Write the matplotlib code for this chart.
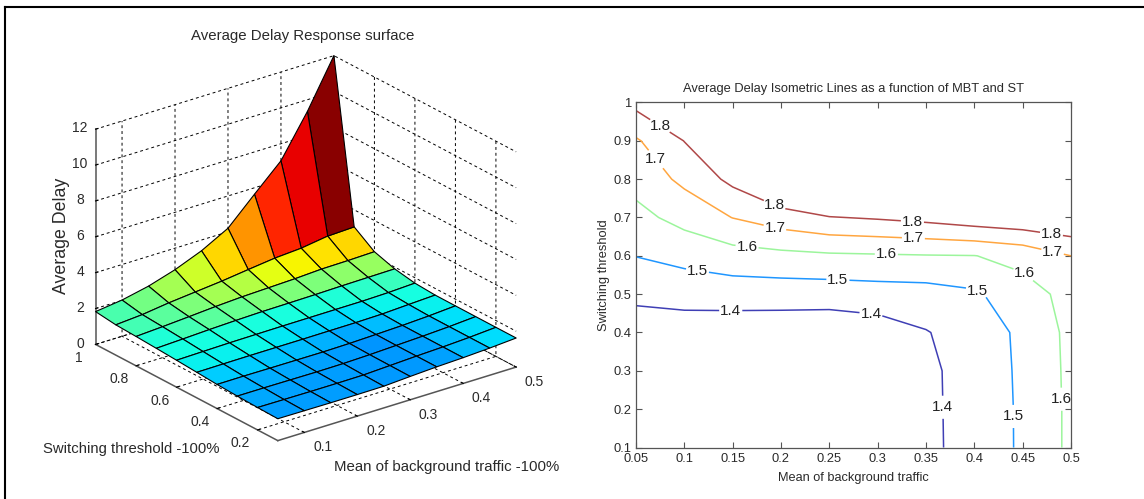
import numpy as np
import matplotlib
matplotlib.use('Agg')
import matplotlib.pyplot as plt
from matplotlib.lines import Line2D

plt.rcParams['font.family'] = ['Liberation Sans', 'DejaVu Sans']

# Grid
mbt = [0.05, 0.10, 0.15, 0.20, 0.25, 0.30, 0.35, 0.40, 0.45, 0.50]
st = [0.1, 0.2, 0.3, 0.4, 0.5, 0.6, 0.7, 0.8, 0.9, 1.0]

delay_st01 = [1.22, 1.21, 1.20, 1.20, 1.21, 1.30, 1.38, 1.435, 1.515, 1.62]
delay_st02 = [1.25, 1.24, 1.23, 1.23, 1.24, 1.31, 1.38, 1.437, 1.515, 1.62]
delay_st03 = [1.29, 1.29, 1.28, 1.27, 1.28, 1.32, 1.38, 1.44, 1.517, 1.622]
delay_st04 = [1.344, 1.35, 1.34, 1.335, 1.33, 1.351, 1.395, 1.445, 1.52, 1.625]
delay_st05 = [1.424, 1.436, 1.445, 1.447, 1.447, 1.455, 1.46, 1.485, 1.56, 1.63]
delay_st06 = [1.502, 1.532, 1.56, 1.573, 1.585, 1.59, 1.595, 1.598, 1.63, 1.70]
delay_st07 = [1.571, 1.633, 1.702, 1.755, 1.795, 1.81, 1.83, 1.86, 1.88, 1.90]
delay_st08 = [1.635, 1.723, 1.825, 1.935, 2.02, 2.07, 2.12, 2.20, 2.22, 2.26]
delay_st09 = [1.688, 1.802, 2.00, 2.15, 2.30, 2.49, 2.67, 2.77, 2.99, 3.05]
delay_st10 = [1.83, 2.02, 2.34, 2.80, 3.40, 4.20, 5.64, 7.05, 9.35, 12.0]

# Jet position of every surface cell, low ST row first
cells_st01 = [0.28, 0.28, 0.28, 0.28, 0.275, 0.275, 0.285, 0.31, 0.34]
cells_st02 = [0.29, 0.285, 0.28, 0.28, 0.275, 0.275, 0.285, 0.31, 0.34]
cells_st03 = [0.30, 0.295, 0.29, 0.285, 0.28, 0.27, 0.285, 0.31, 0.345]
cells_st04 = [0.325, 0.325, 0.32, 0.31, 0.30, 0.29, 0.31, 0.33, 0.36]
cells_st05 = [0.36, 0.36, 0.37, 0.355, 0.33, 0.33, 0.345, 0.365, 0.375]
cells_st06 = [0.375, 0.375, 0.39, 0.38, 0.38, 0.39, 0.39, 0.405, 0.42]
cells_st07 = [0.39, 0.43, 0.46, 0.475, 0.50, 0.50, 0.50, 0.52, 0.535]
cells_st08 = [0.43, 0.46, 0.50, 0.55, 0.57, 0.625, 0.65, 0.67, 0.68]
cells_st09 = [0.44, 0.49, 0.55, 0.60, 0.68, 0.75, 0.87, 0.91, 0.99]

levels = [1.4, 1.5, 1.6, 1.7, 1.8]
level_colors = ['#3f3fb5', '#1f96ff', '#9cf59c', '#ffa640', '#b04848']

# Label spots on the contour panel
labels_18 = [(0.0755, 0.942), (0.194, 0.737), (0.336, 0.692), (0.48, 0.661)]
labels_17 = [(0.071, 0.853), (0.194, 0.677), (0.337, 0.65), (0.481, 0.611)]
labels_16 = [(0.165, 0.627), (0.309, 0.609), (0.451, 0.553), (0.491, 0.226)]
labels_15 = [(0.114, 0.568), (0.259, 0.546), (0.403, 0.51), (0.442, 0.181)]
labels_14 = [(0.148, 0.455), (0.293, 0.446), (0.368, 0.205)]

x_ticks = [0.05, 0.1, 0.15, 0.2, 0.25, 0.3, 0.35, 0.4, 0.45, 0.5]
x_ticklabels = ['0.05', '0.1', '0.15', '0.2', '0.25', '0.3', '0.35', '0.4', '0.45', '0.5']
y_ticks = [0.1, 0.2, 0.3, 0.4, 0.5, 0.6, 0.7, 0.8, 0.9, 1.0]
y_ticklabels = ['0.1', '0.2', '0.3', '0.4', '0.5', '0.6', '0.7', '0.8', '0.9', '1']

W, H = 1144, 499
text_color = '#2a2a2a'
axis_color = '#555555'

X, Y = np.meshgrid(mbt, st)
Z = np.array([delay_st01, delay_st02, delay_st03, delay_st04, delay_st05,
              delay_st06, delay_st07, delay_st08, delay_st09, delay_st10])
cell_levels = np.array([cells_st01, cells_st02, cells_st03, cells_st04, cells_st05,
                        cells_st06, cells_st07, cells_st08, cells_st09])

fig = plt.figure(figsize=(W / 100, H / 100), dpi=100)

# Outer frame, only top and left survive in the picture
fig.add_artist(Line2D([5 / W, 5 / W], [0, 1 - 7 / H], color='black', lw=1.5))
fig.add_artist(Line2D([5 / W, 1], [1 - 7 / H, 1 - 7 / H], color='black', lw=1.5))

# Surface
ax = fig.add_axes([64 / W, 9 / H, 471 / W, 471 / H], projection='3d', proj_type='ortho')
ax.patch.set_alpha(0)
ax.set_box_aspect((1, 1, 0.784))
ax.view_init(elev=23.8, azim=-127.4)
ax.plot_surface(X, Y, Z, rstride=1, cstride=1, facecolors=plt.cm.jet(cell_levels),
                edgecolor='black', linewidth=0.8, shade=False, antialiased=True)
ax.set_xlim(0.05, 0.5)
ax.set_ylim(0.1, 1)
ax.set_zlim(0, 12)
ax.set_xticks([0.1, 0.2, 0.3, 0.4, 0.5])
ax.set_xticklabels(['0.1', '0.2', '0.3', '0.4', '0.5'], ha='left', va='center')
ax.set_yticks([0.2, 0.4, 0.6, 0.8, 1.0])
ax.set_yticklabels(['0.2', '0.4', '0.6', '0.8', '1'], va='bottom')
ax.set_zticks([0, 2, 4, 6, 8, 10, 12])
ax.set_zticklabels(['0', '2', '4', '6', '8', '10', '12'], va='center')
ax.tick_params(labelsize=10, labelcolor=text_color, pad=0.5)
ax.tick_params(axis='y', pad=4.5)
ax.tick_params(axis='z', pad=-1.5)
for axis in (ax.xaxis, ax.yaxis, ax.zaxis):
    axis.pane.set_visible(False)
    axis.line.set_color(axis_color)
    axis.line.set_linewidth(1.1)
    axis._axinfo['grid'].update(color='black', linestyle=(0, (3, 3)), linewidth=0.7)
    axis._axinfo['tick'].update(inward_factor=0.0, outward_factor=0.12)
ax.zaxis.set_ticks_position('upper')

fig.text(303 / W, 1 - 36 / H, 'Average Delay Response surface', ha='center', va='center',
         fontsize=10.8, color=text_color)
fig.text(61 / W, 1 - 236 / H, 'Average Delay', rotation=90, ha='center', va='center',
         fontsize=12.8, color=text_color)
fig.text(131 / W, 1 - 449 / H, 'Switching threshold -100%', ha='center', va='center',
         fontsize=10.7, color=text_color)
fig.text(447 / W, 1 - 467 / H, 'Mean of background traffic -100%', ha='center', va='center',
         fontsize=10.8, color=text_color)

# Contour panel
ax2 = fig.add_axes([636 / W, 1 - 447.5 / H, 435 / W, 345 / H])
cs = ax2.contour(X, Y, Z, levels=levels, colors=level_colors, linewidths=1.1)
spots = labels_14 + labels_15 + labels_16 + labels_17 + labels_18
texts = ax2.clabel(cs, fmt='%.1f', fontsize=11, manual=spots, inline=True, inline_spacing=1,
                   colors='#222222')
for t in texts:
    t.set_rotation(0)
    t.set_clip_on(False)
ax2.set_xlim(0.05, 0.5)
ax2.set_ylim(0.1, 1)
ax2.set_xticks(x_ticks)
ax2.set_xticklabels(x_ticklabels)
ax2.set_yticks(y_ticks)
ax2.set_yticklabels(y_ticklabels)
ax2.tick_params(direction='in', top=True, right=True, length=4, width=0.8, color=axis_color,
                labelsize=9.3, labelcolor=text_color)
ax2.tick_params(axis='x', pad=4)
ax2.tick_params(axis='y', pad=3)
for spine in ax2.spines.values():
    spine.set_color(axis_color)
    spine.set_linewidth(0.9)
ax2.set_title('Average Delay Isometric Lines as a function of MBT and ST', fontsize=9.3,
              color=text_color, pad=7.5)
ax2.set_xlabel('Mean of background traffic', fontsize=9.2, color=text_color, labelpad=5)
ax2.set_ylabel('Switching threshold', fontsize=9.3, color=text_color, labelpad=3)

plt.savefig('out.png', dpi=100)
